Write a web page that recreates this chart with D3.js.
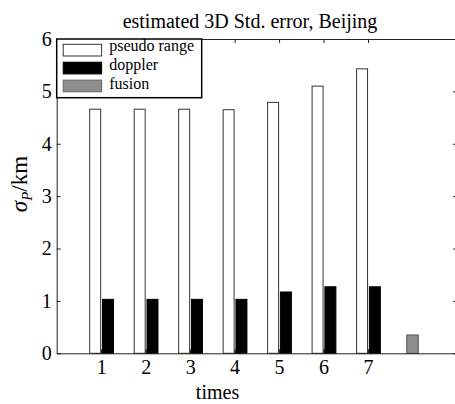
<!DOCTYPE html>
<html>
<head>
<meta charset="utf-8">
<script src="https://cdn.jsdelivr.net/npm/d3@7"></script>
<style>
  body { margin: 0; background: #fff; }
  svg { display: block; font-family: "Liberation Serif", "Times New Roman", serif; }
</style>
</head>
<body>
<svg id="chart" width="455" height="404"></svg>
<script>
const groups = [1, 2, 3, 4, 5, 6, 7, 8];
const xTickLabels = [1, 2, 3, 4, 5, 6, 7];
const yTickValues = [0, 1, 2, 3, 4, 5, 6];

const pseudoRange = [4.66, 4.66, 4.66, 4.65, 4.79, 5.10, 5.43, 0];
const doppler = [1.03, 1.03, 1.03, 1.03, 1.17, 1.27, 1.27, 0];
const fusion = [0.06, 0.06, 0.06, 0.06, 0.06, 0.06, 0.06, 0.35];

const legendItems = [
  { name: 'pseudo range', fill: '#fff', stroke: '#333' },
  { name: 'doppler', fill: '#000', stroke: '#000' },
  { name: 'fusion', fill: '#8e8e8e', stroke: '#666' },
];

const serif = '"Liberation Serif", "Times New Roman", serif';
const svg = d3.select('#chart');

const xScale = d3.scaleLinear().domain([0, 9]).range([56.7, 457]);
const yScale = d3.scaleLinear().domain([0, 6]).range([353.3, 39]);

// bar placement inside a group, in x units (offset from the tick, width)
const series = [
  { key: 'fusion', values: fusion, off: -0.13, w: 0.26, fill: '#8e8e8e', stroke: '#555' },
  { key: 'pseudo', values: pseudoRange, off: -0.258, w: 0.247, fill: '#fff', stroke: '#333' },
  { key: 'doppler', values: doppler, off: 0.03, w: 0.247, fill: '#000', stroke: '#000' },
];

const gBars = svg.append('g')
  .selectAll('g')
  .data(series)
  .enter()
  .append('g')
  .attr('fill', (s) => s.fill)
  .attr('stroke', (s) => s.stroke)
  .attr('stroke-width', 1);

gBars.selectAll('rect')
  .data((s) => groups.map((g, i) => ({ g, v: s.values[i], off: s.off, w: s.w })).filter((d) => d.v > 0))
  .enter()
  .append('rect')
  .attr('x', (d) => xScale(d.g + d.off))
  .attr('y', (d) => yScale(d.v))
  .attr('width', (d) => xScale(d.g + d.off + d.w) - xScale(d.g + d.off))
  .attr('height', (d) => yScale(0) - yScale(d.v));

// axes, MATLAB style: ticks point inward, box all round
const axisStyle = (g) => {
  g.attr('font-family', serif).attr('font-size', 20);
  g.selectAll('text').attr('fill', '#000');
  g.selectAll('path, line').attr('stroke', '#222');
};

svg.append('g')
  .attr('transform', `translate(0,${yScale(0)})`)
  .call(d3.axisBottom(xScale).tickValues(xTickLabels).tickSize(-4).tickSizeOuter(0).tickPadding(7).tickFormat(d3.format('d')))
  .call(axisStyle);

svg.append('g')
  .attr('transform', `translate(0,${yScale(6)})`)
  .call(d3.axisTop(xScale).tickValues(xTickLabels).tickSize(-4).tickSizeOuter(0).tickFormat(''))
  .call(axisStyle);

svg.append('g')
  .attr('transform', `translate(${xScale(0)},0)`)
  .call(d3.axisLeft(yScale).tickValues(yTickValues).tickSize(-4).tickSizeOuter(0).tickPadding(5).tickFormat(d3.format('d')))
  .call(axisStyle);

svg.append('g')
  .attr('transform', `translate(${xScale(9)},0)`)
  .call(d3.axisRight(yScale).tickValues(yTickValues).tickSize(-4).tickSizeOuter(0).tickFormat(''))
  .call(axisStyle);

// legend
const legend = svg.append('g').attr('transform', `translate(${xScale(0)},${yScale(6)})`);

legend.append('rect')
  .attr('width', 145)
  .attr('height', 58.7)
  .attr('fill', '#fff')
  .attr('stroke', '#000')
  .attr('stroke-width', 1.5);

const legendRows = legend.selectAll('g.row')
  .data(legendItems)
  .enter()
  .append('g')
  .attr('class', 'row')
  .attr('transform', (d, i) => `translate(6.5,${5.3 + i * 17.9})`);

legendRows.append('rect')
  .attr('width', 38.4)
  .attr('height', 11.7)
  .attr('fill', (d) => d.fill)
  .attr('stroke', (d) => d.stroke);

legendRows.append('text')
  .attr('x', 46)
  .attr('y', (d, i) => 6.8 + i * 0.9)
  .attr('font-size', 16)
  .text((d) => d.name);

// title and labels
svg.append('text')
  .attr('x', 250)
  .attr('y', 27.5)
  .attr('text-anchor', 'middle')
  .attr('font-size', 20)
  .text('estimated 3D Std. error, Beijing');

svg.append('text')
  .attr('x', 217.5)
  .attr('y', 399)
  .attr('text-anchor', 'middle')
  .attr('font-size', 20)
  .text('times');

const yLabel = svg.append('text')
  .attr('transform', 'translate(27,184) rotate(-90)')
  .attr('text-anchor', 'middle')
  .attr('font-size', 23);
yLabel.append('tspan').attr('font-style', 'italic').text('σ');
yLabel.append('tspan').attr('font-style', 'italic').attr('font-size', 15).attr('dy', 5).text('P');
yLabel.append('tspan').attr('dy', -5).text('/km');
</script>
</body>
</html>
